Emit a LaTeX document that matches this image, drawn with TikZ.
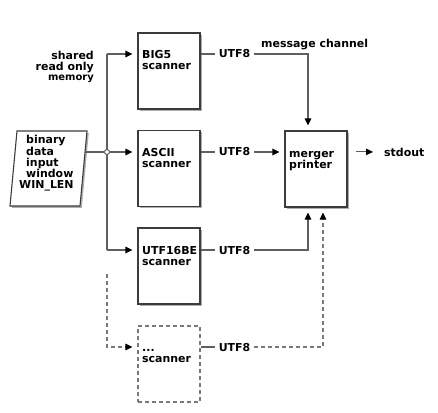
\documentclass[tikz,border=0pt]{standalone}
\usepackage{fontspec}
\setmainfont{DejaVu Sans}
\usetikzlibrary{arrows.meta,shadows}
\definecolor{linec}{RGB}{95,95,95}
\definecolor{boxc}{RGB}{60,60,60}
\definecolor{shadc}{RGB}{140,140,140}
\definecolor{dashc}{RGB}{120,120,120}
\tikzset{
  txt/.style={font=\fontsize{11}{11}\selectfont\bfseries, inner sep=0pt},
  smalltxt/.style={font=\fontsize{10}{10}\selectfont\bfseries, inner sep=0pt},
  boxlook/.style={draw=boxc, line width=1.1bp, fill=white,
    drop shadow={shadow xshift=1.8bp, shadow yshift=-1.8bp, fill=shadc, opacity=0.7}},
  procbox/.style={boxlook, minimum width=62bp, minimum height=76bp, inner sep=0pt},
  dashbox/.style={draw=dashc, line width=1.1bp, dash pattern=on 4bp off 3bp, fill=white,
    minimum width=62bp, minimum height=76bp, inner sep=0pt},
  conn/.style={draw=linec, line width=1.1bp},
  dconn/.style={draw=dashc, line width=1.1bp, dash pattern=on 4bp off 3bp},
  tip/.style={-{Triangle[length=7bp,width=6.5bp,color=black]}, shorten >=5bp},
  lab/.style={font=\fontsize{11}{11}\selectfont\bfseries, inner sep=4bp},
  junction/.style={circle, draw=linec, line width=1bp, fill=white, minimum size=5bp, inner sep=0pt}
}
\begin{document}
\begin{tikzpicture}[x=1bp,y=-1bp]
\useasboundingbox (0,0) rectangle (438,412);

% input parallelogram
\coordinate (p1) at (17,131);
\coordinate (p2) at (87,131);
\coordinate (p3) at (80,206);
\coordinate (p4) at (10,206);
\path[boxlook] (p1) -- (p2) -- (p3) -- (p4) -- cycle;
\node[txt, font=\fontsize{11}{10.6}\selectfont\bfseries, anchor=base west, align=left] (intext) at (19,188.4)
  {\hspace*{7bp}binary\\\hspace*{7bp}data\\\hspace*{7bp}input\\\hspace*{7bp}window\\WIN\_LEN};
\coordinate (pin) at (85,152);

% scanners
\node[procbox] (big5) at (169,71) {};
\node[procbox] (ascii) at (169,168.5) {};
\node[procbox] (utf) at (169,266) {};
\node[dashbox] (dots) at (169,364) {};
\node[procbox] (merger) at (316,169) {};

\node[txt, anchor=base west, align=left] (t1) at (142,69) {BIG5\\scanner};
\node[txt, anchor=base west, align=left] (t2) at (142,167) {ASCII\\scanner};
\node[txt, anchor=base west, align=left] (t3) at (142,265) {UTF16BE\\scanner};
\node[txt, anchor=base west, align=left] (t4) at (142,362) {...\\scanner};
\node[txt, anchor=base west, align=left] (t5) at (289,168) {merger\\printer};

\node[txt, anchor=base east, align=right] (shm) at (94,70) {shared\\read only};
\node[smalltxt, anchor=base east] (shm2) at (94,80) {memory};

% bus
\coordinate (b1) at (107,54);
\coordinate (jp) at (107,152);
\coordinate (b3) at (107,250);
\coordinate (d0) at (107,274);
\coordinate (d1) at (107,347);
\draw[conn] (b1) -- (b3);
\draw[conn, tip] (b1) -- (b1 -| big5.west);
\draw[conn, tip] (jp) -- (jp -| ascii.west);
\draw[conn, tip] (b3) -- (b3 -| utf.west);
\draw[dconn, tip] (d0) -- (d1) -- (d1 -| dots.west);
\node[junction] (jn) at (jp) {};
\draw[conn] (pin) -- (jn);

% outputs
\node[lab] (u1) at (234.5,54) {UTF8};
\node[lab] (u2) at (234.5,152) {UTF8};
\node[lab] (u3) at (234.5,250) {UTF8};
\node[lab] (u4) at (234.5,347) {UTF8};
\coordinate (m1) at (308,54);
\coordinate (m3) at (308,250);
\coordinate (m4) at (323,347);

\draw[conn] (u1.west -| big5.east) -- (u1.west);
\draw[conn, tip] (u1.east) -- (m1) -- (m1 |- merger.north);
\node[txt, anchor=base west] (mc) at (261,47.5) {message channel};

\draw[conn] (u2.west -| ascii.east) -- (u2.west);
\draw[conn, tip] (u2.east) -- (u2.east -| merger.west);

\draw[conn] (u3.west -| utf.east) -- (u3.west);
\draw[conn, tip] (u3.east) -- (m3) -- (m3 |- merger.south);

\draw[conn] (u4.west -| dots.east) -- (u4.west);
\draw[dconn, tip] (u4.east) -- (m4) -- (m4 |- merger.south);

\node[txt, anchor=base west] (so) at (384,156) {stdout};
\draw[conn, -{Triangle[length=7bp,width=6.5bp,color=black]}, shorten <=8bp, shorten >=11bp]
  (so.west -| merger.east) -- (so.west);
\end{tikzpicture}
\end{document}
